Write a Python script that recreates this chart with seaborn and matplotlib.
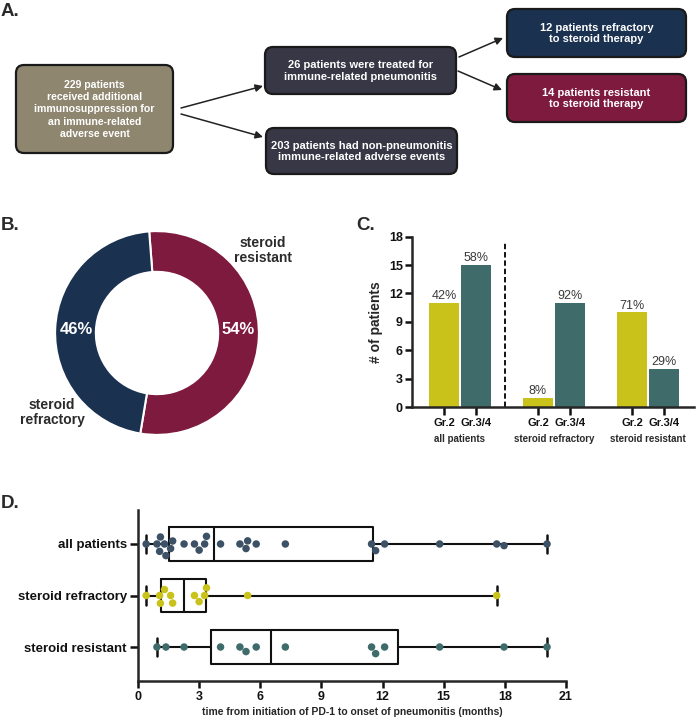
import numpy as np
import pandas as pd
import matplotlib
matplotlib.use("Agg")
import matplotlib.pyplot as plt
from matplotlib.patches import FancyBboxPatch
import seaborn as sns

sns.set_style("ticks")
plt.rcParams['font.family'] = ['Liberation Sans', 'DejaVu Sans']

# ---------------- data ----------------
# Panel A flowchart
flow_texts = [
    "229 patients\nreceived additional\nimmunosuppression for\nan immune-related\nadverse event",
    "26 patients were treated for\nimmune-related pneumonitis",
    "203 patients had non-pneumonitis\nimmune-related adverse events",
    "12 patients refractory\nto steroid therapy",
    "14 patients resistant\nto steroid therapy",
]
# Panel B donut
donut_labels = ["steroid\nresistant", "steroid\nrefractory"]
donut_counts = [14, 12]
# Panel C bars
c_groups = ["all patients", "steroid refractory", "steroid resistant"]
c_grades = ["Gr.2", "Gr.3/4"]
c_gr2 = [11, 1, 10]
c_gr34 = [15, 11, 4]
c_pct_gr2 = ["42%", "8%", "71%"]
c_pct_gr34 = ["58%", "92%", "29%"]
# Panel D times (months)
d_groups = ["all patients", "steroid refractory", "steroid resistant"]
refractory_t = [0.4, 1.06, 1.1, 1.3, 1.6, 1.7, 2.77, 3.0, 3.27, 3.36, 5.38, 17.6]
resistant_t = [0.93, 1.37, 2.26, 4.05, 5.0, 5.3, 5.8, 7.23, 11.46, 11.66, 12.1, 14.8, 17.96, 20.07]
d_xticks = [0, 3, 6, 9, 12, 15, 18, 21]

# colours
TAN = "#8f866f"
DARK = "#383746"
NAVY = "#1a3150"
CRIMSON = "#7e1a3d"
YEL = "#c8c21b"
TEAL = "#3f6b6b"
SLATE = "#3d5166"

W, H = 696, 720
fig = plt.figure(figsize=(W / 100, H / 100), dpi=100)

def fr(x0, y0, x1, y1):
    return [x0 / W, 1 - y1 / H, (x1 - x0) / W, (y1 - y0) / H]

# ---------------- overlay (panel A + letters) ----------------
axO = fig.add_axes([0, 0, 1, 1])
axO.set_xlim(0, W)
axO.set_ylim(H, 0)
axO.axis("off")
axO.patch.set_alpha(0)

boxes = [
    (16, 65, 173, 153, TAN),
    (265, 47, 456, 94, DARK),
    (266, 128, 457, 174, DARK),
    (507, 9, 686, 57, NAVY),
    (507, 74, 686, 122, CRIMSON),
]
box_fs = [7.6, 8, 8, 8, 8]
box_ls = [1.27, 1.2, 1.2, 1.2, 1.2]
for (x0, y0, x1, y1, col), txt, fs, ls in zip(boxes, flow_texts, box_fs, box_ls):
    p = FancyBboxPatch((x0, y0), x1 - x0, y1 - y0,
                       boxstyle="round,pad=0,rounding_size=8",
                       fc=col, ec="#1a1a1a", lw=1.6)
    axO.add_patch(p)
    axO.text((x0 + x1) / 2, (y0 + y1) / 2 + 0.5, txt, color="white", fontsize=fs,
             fontweight="bold", ha="center", va="center", linespacing=ls)

arrows = [((181, 108), (263, 86)), ((181, 114), (263, 137)),
          ((459, 57), (503, 38)), ((458, 71), (502, 90))]
for (s, e) in arrows:
    axO.annotate("", xy=e, xytext=s,
                 arrowprops=dict(arrowstyle="-|>", color="#222222", lw=1.1,
                                 mutation_scale=11, shrinkA=0, shrinkB=0))

for letter, (x, y) in zip(["A.", "B.", "C.", "D."],
                          [(1, 11), (1, 225), (356, 226), (1, 504)]):
    axO.text(x, y, letter, fontsize=13.5, fontweight="bold", color="#2a2a2a",
             ha="left", va="center")

# ---------------- panel B donut ----------------
axB = fig.add_axes(fr(50, 226, 264, 440))
total = sum(donut_counts)
axB.pie(donut_counts, colors=[CRIMSON, NAVY], startangle=94.4, counterclock=False,
        radius=1, wedgeprops=dict(width=0.4, edgecolor="white", linewidth=1.5))
axB.set_xlim(-1.05, 1.05)
axB.set_ylim(-1.05, 1.05)
axB.set_aspect("equal")
axB.axis("off")
pcts = [f"{round(100 * c / total)}%" for c in donut_counts]
axB.text(0.80, 0.03, pcts[0], color="white", fontsize=12, fontweight="bold",
         ha="center", va="center")
axB.text(-0.79, 0.03, pcts[1], color="white", fontsize=12, fontweight="bold",
         ha="center", va="center")
axB.text(1.04, 0.81, donut_labels[0], color="#2b2b2b", fontsize=10, fontweight="bold",
         ha="center", va="center", linespacing=1.15)
axB.text(-1.03, -0.78, donut_labels[1], color="#2b2b2b", fontsize=10, fontweight="bold",
         ha="center", va="center", linespacing=1.15)

# ---------------- panel C bars ----------------
axC = fig.add_axes(fr(412, 236.7, 694, 407))
dfC = pd.DataFrame({
    "group": c_groups * 2,
    "grade": [c_grades[0]] * 3 + [c_grades[1]] * 3,
    "n": c_gr2 + c_gr34,
})
sns.barplot(data=dfC, x="group", y="n", hue="grade", order=c_groups,
            hue_order=c_grades, palette=[YEL, TEAL], width=0.68, gap=0.05,
            saturation=1, legend=False, ax=axC, edgecolor="none")
for cont, labs in zip(axC.containers, [c_pct_gr2, c_pct_gr34]):
    axC.bar_label(cont, labels=labs, padding=0.5, fontsize=9, color="#3a3a3a")
centers, tlabels = [], []
for cont, g in zip(axC.containers, c_grades):
    for p in cont.patches:
        centers.append(p.get_x() + p.get_width() / 2)
        tlabels.append(g)
order = np.argsort(centers)
axC.set_xticks([centers[i] for i in order])
axC.set_xticklabels([tlabels[i] for i in order], fontsize=8, fontweight="bold")
for i, g in enumerate(c_groups):
    axC.text(i, -0.185, g, transform=axC.get_xaxis_transform(), ha="center",
             va="center", fontsize=7, fontweight="bold", color="#2a2a2a")
axC.set_xlim(-0.51, 2.49)
axC.set_ylim(0, 18)
axC.set_yticks(range(0, 19, 3))
axC.set_yticklabels([str(v) for v in range(0, 19, 3)], fontsize=9, fontweight="bold")
axC.axvline(0.48, ymin=0, ymax=0.97, color="black", lw=1.3, ls=(0, (3, 1.6)))
axC.set_xlabel("")
axC.set_ylabel("# of patients", fontsize=10, fontweight="bold", labelpad=4)
sns.despine(ax=axC)
for s in ["left", "bottom"]:
    axC.spines[s].set_linewidth(1.8)
axC.tick_params(axis="x", length=6, width=1.8, pad=2, colors="#111111")
axC.tick_params(axis="y", length=5, width=1.8, pad=1.5, colors="#111111")

# ---------------- panel D box + swarm ----------------
axD = fig.add_axes(fr(138, 510, 566, 681))
all_t = refractory_t + resistant_t
series = [all_t, refractory_t, resistant_t]
dfD = pd.DataFrame({
    "group": sum([[g] * len(v) for g, v in zip(d_groups, series)], []),
    "t": sum([list(v) for v in series], []),
})
stats = []
for g, v in zip(d_groups, series):
    v = np.asarray(v)
    q1, med, q3 = np.percentile(v, [25, 50, 75], method="weibull")
    stats.append(dict(label=g, med=med, q1=q1, q3=q3, whislo=v.min(),
                      whishi=v.max(), fliers=[]))
bkw = dict(positions=[0, 1, 2], widths=0.65, showfliers=False, capwidths=0.36,
           boxprops=dict(color="#111111", lw=1.5),
           whiskerprops=dict(color="#111111", lw=1.5),
           capprops=dict(color="#111111", lw=1.8),
           medianprops=dict(color="#111111", lw=1.5), manage_ticks=False)
try:
    axD.bxp(stats, orientation="horizontal", **bkw)
except TypeError:
    axD.bxp(stats, vert=False, **bkw)
sns.swarmplot(data=dfD, x="t", y="group", hue="group", order=d_groups,
              hue_order=d_groups, palette=[SLATE, YEL, TEAL], size=5.4,
              legend=False, ax=axD, zorder=3, linewidth=0)
axD.set_ylim(2.66, -0.66)
axD.set_xlim(0, 21)
axD.set_xticks(d_xticks)
axD.set_xticklabels([str(v) for v in d_xticks], fontsize=9, fontweight="bold")
axD.set_yticks([0, 1, 2])
axD.set_yticklabels(d_groups, fontsize=9.5, fontweight="bold")
axD.set_ylabel("")
axD.set_xlabel("time from initiation of PD-1 to onset of pneumonitis (months)",
               fontsize=7.5, fontweight="bold", labelpad=3)
sns.despine(ax=axD)
for s in ["left", "bottom"]:
    axD.spines[s].set_linewidth(1.8)
axD.tick_params(axis="x", length=5, width=1.8, pad=2, colors="#111111")
axD.tick_params(axis="y", length=6, width=1.8, pad=2, colors="#111111")

fig.savefig("out.png", dpi=100)
